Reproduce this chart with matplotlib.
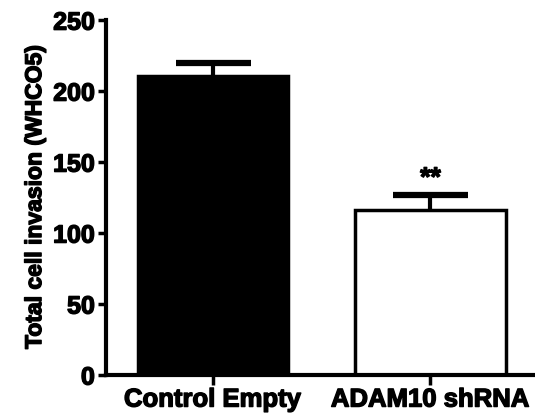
import matplotlib
matplotlib.use("Agg")
import matplotlib.pyplot as plt
import matplotlib.patheffects as pe
import numpy as np

# data
groups = ["Control Empty", "ADAM10 shRNA"]
means = [211, 116]
errors = [9, 11]
face_colors = ["black", "white"]
stars = ["", "**"]
y_ticks = [0, 50, 100, 150, 200, 250]

plt.rcParams['font.family'] = ['Liberation Sans', 'DejaVu Sans']
plt.rcParams['font.weight'] = 'bold'

# heavier look, like the blurry scan
heavy = [pe.withStroke(linewidth=1.0, foreground="black")]

fig = plt.figure(figsize=(5.35, 4.2), dpi=100)
ax = fig.add_axes([0.198, 0.107, 0.802, 0.845])

x = np.arange(len(groups))
ax.bar(x, means, width=0.69, color=face_colors, edgecolor="black", linewidth=2.5, zorder=2)
eb = ax.errorbar(x, means, yerr=[[0] * len(errors), errors], fmt="none", ecolor="black",
                 elinewidth=3, capsize=27, capthick=4.5, zorder=3)
# only keep the upper caps
eb[1][0].set_visible(False)

for xi, m, e, s in zip(x, means, errors, stars):
    if s:
        ax.text(xi, m + e + 3, s, ha="center", va="bottom", fontsize=19,
                fontweight="bold", path_effects=heavy)

ax.set_xlim(-0.49, 1.48)
ax.set_ylim(0, 250)
ax.set_yticks(y_ticks)
ax.set_xticks(x)
ax.set_xticklabels(groups, fontsize=18.5, fontweight="bold")
ax.tick_params(axis="y", labelsize=18, width=2.5, length=6, pad=2)
ax.tick_params(axis="x", width=2.5, length=7, pad=2)
for lbl in ax.get_yticklabels() + ax.get_xticklabels():
    lbl.set_fontweight("bold")
    lbl.set_path_effects(heavy)

ax.set_ylabel("Total cell invasion (WHCO5)", fontsize=16.5, fontweight="bold", labelpad=5,
              path_effects=heavy)

ax.spines["top"].set_visible(False)
ax.spines["right"].set_visible(False)
ax.spines["left"].set_linewidth(3)
ax.spines["bottom"].set_linewidth(3)

fig.savefig("out.png", dpi=100)
